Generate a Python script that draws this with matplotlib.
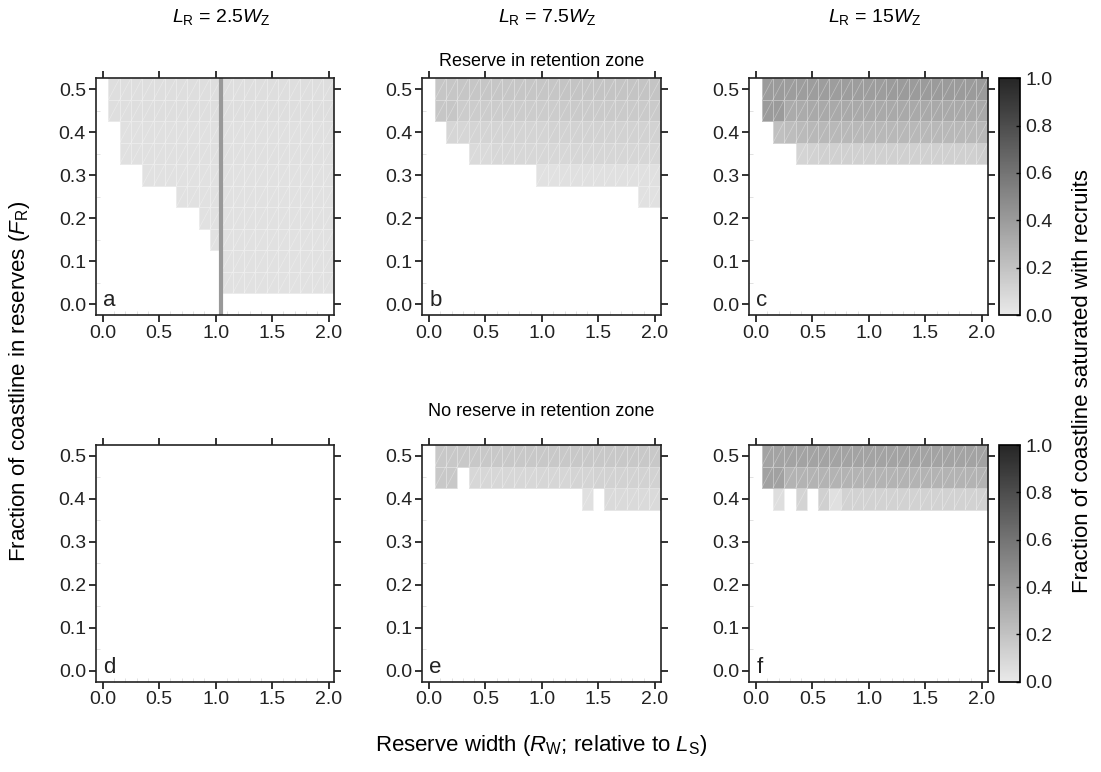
import numpy as np
import matplotlib
matplotlib.use("Agg")
import matplotlib.pyplot as plt
from matplotlib.colors import LinearSegmentedColormap
from matplotlib.collections import LineCollection
from matplotlib.ticker import MultipleLocator, FormatStrFormatter

plt.rcParams["font.family"] = ["Liberation Sans", "DejaVu Sans"]
plt.rcParams["mathtext.fontset"] = "custom"
plt.rcParams["mathtext.rm"] = "Liberation Sans"
plt.rcParams["mathtext.it"] = "Liberation Sans:italic"

# reserve width (cell centres) and fraction of coastline (row centres, top -> bottom)
widths = [0.1, 0.2, 0.3, 0.4, 0.5, 0.6, 0.7, 0.8, 0.9, 1.0,
          1.1, 1.2, 1.3, 1.4, 1.5, 1.6, 1.7, 1.8, 1.9, 2.0]
fractions = [0.50, 0.45, 0.40, 0.35, 0.30, 0.25, 0.20, 0.15, 0.10, 0.05]

N = None
EMPTY = [N] * 20

# fraction saturated, one row per fraction (top row = 0.50)
panel_a = [
    [.06, .06, .06, .06, .06, .06, .06, .06, .06, .06, .06, .06, .06, .06, .06, .06, .06, .06, .06, .06],
    [.06, .06, .06, .06, .06, .06, .06, .06, .06, .06, .06, .06, .06, .06, .06, .06, .06, .06, .06, .06],
    [N, .05, .05, .05, .05, .05, .05, .05, .05, .05, .05, .05, .05, .05, .05, .05, .05, .05, .05, .05],
    [N, .05, .05, .05, .05, .05, .05, .05, .05, .05, .05, .05, .05, .05, .05, .05, .05, .05, .05, .05],
    [N, N, N, .04, .04, .04, .04, .04, .04, .04, .04, .04, .04, .04, .04, .04, .04, .04, .04, .04],
    [N, N, N, N, N, N, .04, .04, .04, .04, .04, .04, .04, .04, .04, .04, .04, .04, .04, .04],
    [N, N, N, N, N, N, N, N, .04, .04, .04, .04, .04, .04, .04, .04, .04, .04, .04, .04],
    [N, N, N, N, N, N, N, N, N, .04, .04, .04, .04, .04, .04, .04, .04, .04, .04, .04],
    [N, N, N, N, N, N, N, N, N, N, .04, .04, .04, .04, .04, .04, .04, .04, .04, .04],
    [N, N, N, N, N, N, N, N, N, N, .04, .04, .04, .04, .04, .04, .04, .04, .04, .04],
]
panel_b = [
    [.18, .18, .18, .18, .18, .18, .18, .18, .18, .18, .18, .19, .19, .19, .19, .19, .19, .19, .19, .19],
    [.18, .18, .15, .15, .15, .15, .15, .15, .15, .15, .15, .16, .16, .16, .16, .16, .16, .16, .16, .16],
    [N, .10, .10, .11, .11, .11, .11, .11, .11, .11, .12, .12, .12, .12, .12, .12, .12, .12, .12, .12],
    [N, N, N, .08, .08, .09, .09, .09, .09, .09, .09, .09, .10, .10, .10, .10, .10, .10, .10, .10],
    [N, N, N, N, N, N, N, N, N, .04, .04, .05, .05, .05, .05, .05, .05, .05, .05, .05],
    [N, N, N, N, N, N, N, N, N, N, N, N, N, N, N, N, N, N, .04, .04],
    EMPTY, EMPTY, EMPTY, EMPTY,
]
panel_c = [
    [.40, .40, .39, .39, .39, .39, .39, .39, .39, .39, .39, .40, .40, .40, .40, .40, .40, .40, .40, .40],
    [.40, .40, .32, .32, .33, .33, .33, .33, .33, .33, .33, .33, .33, .33, .33, .33, .33, .33, .33, .33],
    [N, .21, .23, .24, .25, .25, .25, .25, .25, .25, .25, .25, .25, .25, .25, .25, .25, .25, .25, .25],
    [N, N, N, .11, .12, .13, .13, .13, .13, .13, .13, .13, .13, .13, .13, .13, .13, .13, .13, .14],
    EMPTY, EMPTY, EMPTY, EMPTY, EMPTY, EMPTY,
]
panel_d = [EMPTY] * 10
panel_e = [
    [.17, .17, .17, .17, .17, .17, .17, .17, .17, .17, .17, .17, .17, .17, .17, .17, .17, .17, .17, .17],
    [.17, .17, N, .09, .09, .09, .09, .09, .09, .10, .10, .10, .11, .11, .12, .12, .12, .12, .12, .12],
    [N, N, N, N, N, N, N, N, N, N, N, N, N, .05, N, .08, .08, .08, .08, .08],
    EMPTY, EMPTY, EMPTY, EMPTY, EMPTY, EMPTY, EMPTY,
]
panel_f = [
    [.36, .36, .36, .36, .36, .36, .36, .36, .36, .36, .36, .36, .36, .36, .36, .36, .36, .36, .36, .36],
    [.37, .37, .28, .28, .28, .28, .28, .28, .28, .28, .28, .28, .28, .28, .28, .28, .28, .28, .28, .28],
    [N, .06, N, .11, N, .13, .05, .12, .12, .12, .12, .12, .12, .12, .12, .12, .12, .12, .12, .12],
    EMPTY, EMPTY, EMPTY, EMPTY, EMPTY, EMPTY, EMPTY,
]

panels = [panel_a, panel_b, panel_c, panel_d, panel_e, panel_f]
letters = ["a", "b", "c", "d", "e", "f"]
col_titles = [r"$L_{\mathrm{R}}$ = 2.5$W_{\mathrm{Z}}$",
              r"$L_{\mathrm{R}}$ = 7.5$W_{\mathrm{Z}}$",
              r"$L_{\mathrm{R}}$ = 15$W_{\mathrm{Z}}$"]
row_titles = ["Reserve in retention zone", "No reserve in retention zone"]
marker_x_a = 1.05  # grey vertical line in panel a

cmap = LinearSegmentedColormap.from_list("greys", ["#e9e9e9", "#262626"])

W, H = 1101, 772
fig = plt.figure(figsize=(W / 100, H / 100), dpi=100)

lefts = [95.7, 422, 749]
tops = [78.3, 445]
aw, ah = 238.6, 236.7

xe = np.array(widths) - 0.05
xe = np.append(xe, widths[-1] + 0.05)
ye = np.array(fractions[::-1]) - 0.025
ye = np.append(ye, fractions[0] + 0.025)

for i, data in enumerate(panels):
    r, c = divmod(i, 3)
    ax = fig.add_axes([lefts[c] / W, 1 - (tops[r] + ah) / H, aw / W, ah / H])
    z = np.array([[np.nan if v is None else v for v in row] for row in data])[::-1]
    ax.pcolormesh(xe, ye, np.ma.masked_invalid(z), cmap=cmap, vmin=0, vmax=1,
                  edgecolors=(1, 1, 1, 0.35), linewidth=0.5)
    # faint diagonal seams inside each cell
    segs = []
    for yi in range(len(ye) - 1):
        for xi in range(len(xe) - 1):
            if not np.isnan(z[yi, xi]):
                segs.append([(xe[xi], ye[yi]), (xe[xi + 1], ye[yi + 1])])
    if segs:
        ax.add_collection(LineCollection(segs, colors=(1, 1, 1, 0.35), linewidths=0.5))

    if i == 0:
        ax.axvline(marker_x_a, color="#999999", lw=3)

    ax.set_xlim(-0.062, 2.05)
    ax.set_ylim(-0.025, 0.525)
    ax.set_xticks([0.0, 0.5, 1.0, 1.5, 2.0])
    ax.set_yticks([0.0, 0.1, 0.2, 0.3, 0.4, 0.5])
    ax.xaxis.set_major_formatter(FormatStrFormatter("%.1f"))
    ax.yaxis.set_major_formatter(FormatStrFormatter("%.1f"))
    ax.xaxis.set_minor_locator(MultipleLocator(0.1))
    ax.yaxis.set_minor_locator(MultipleLocator(0.05))
    ax.tick_params(which="major", direction="out", length=5, width=1.3,
                   top=True, right=True, labelsize=14, pad=2, color="#222222",
                   labelcolor="#222222")
    ax.tick_params(which="minor", direction="in", length=3, width=0.6,
                   color="#dddddd", top=False, right=False)
    for s in ax.spines.values():
        s.set_linewidth(1.2)
        s.set_color("#222222")
    ax.text(0.03, 0.015, letters[i], transform=ax.transAxes, fontsize=16,
            ha="left", va="bottom", color="#222222")

for c in range(3):
    fig.text((lefts[c] + aw / 2 + 6) / W, 1 - 17 / H, col_titles[c],
             ha="center", va="center", fontsize=14)
fig.text((lefts[1] + aw / 2) / W, 1 - 62 / H, row_titles[0], ha="center",
         va="center", fontsize=13)
fig.text((lefts[1] + aw / 2) / W, 1 - 412 / H, row_titles[1], ha="center",
         va="center", fontsize=13)

fig.text(20 / W, 1 - 381 / H, r"Fraction of coastline in reserves ($F_{\mathrm{R}}$)",
         rotation=90, ha="center", va="center", fontsize=16)
fig.text((lefts[1] + aw / 2) / W, 1 - 746 / H,
         r"Reserve width ($R_{\mathrm{W}}$; relative to $L_{\mathrm{S}}$)",
         ha="center", va="center", fontsize=16)
fig.text(1083 / W, 1 - 381 / H, "Fraction of coastline saturated with recruits",
         rotation=90, ha="center", va="center", fontsize=16)

sm = plt.cm.ScalarMappable(cmap=cmap, norm=plt.Normalize(0, 1))
for r in range(2):
    cax = fig.add_axes([999.3 / W, 1 - (tops[r] + ah) / H, 20.7 / W, ah / H])
    cb = fig.colorbar(sm, cax=cax)
    cb.set_ticks([0.0, 0.2, 0.4, 0.6, 0.8, 1.0])
    cb.ax.yaxis.set_major_formatter(FormatStrFormatter("%.1f"))
    cb.ax.tick_params(direction="in", length=3, width=1, labelsize=14, pad=4,
                      labelcolor="#222222")
    cb.outline.set_linewidth(1.2)

fig.savefig("out.png", dpi=100)
